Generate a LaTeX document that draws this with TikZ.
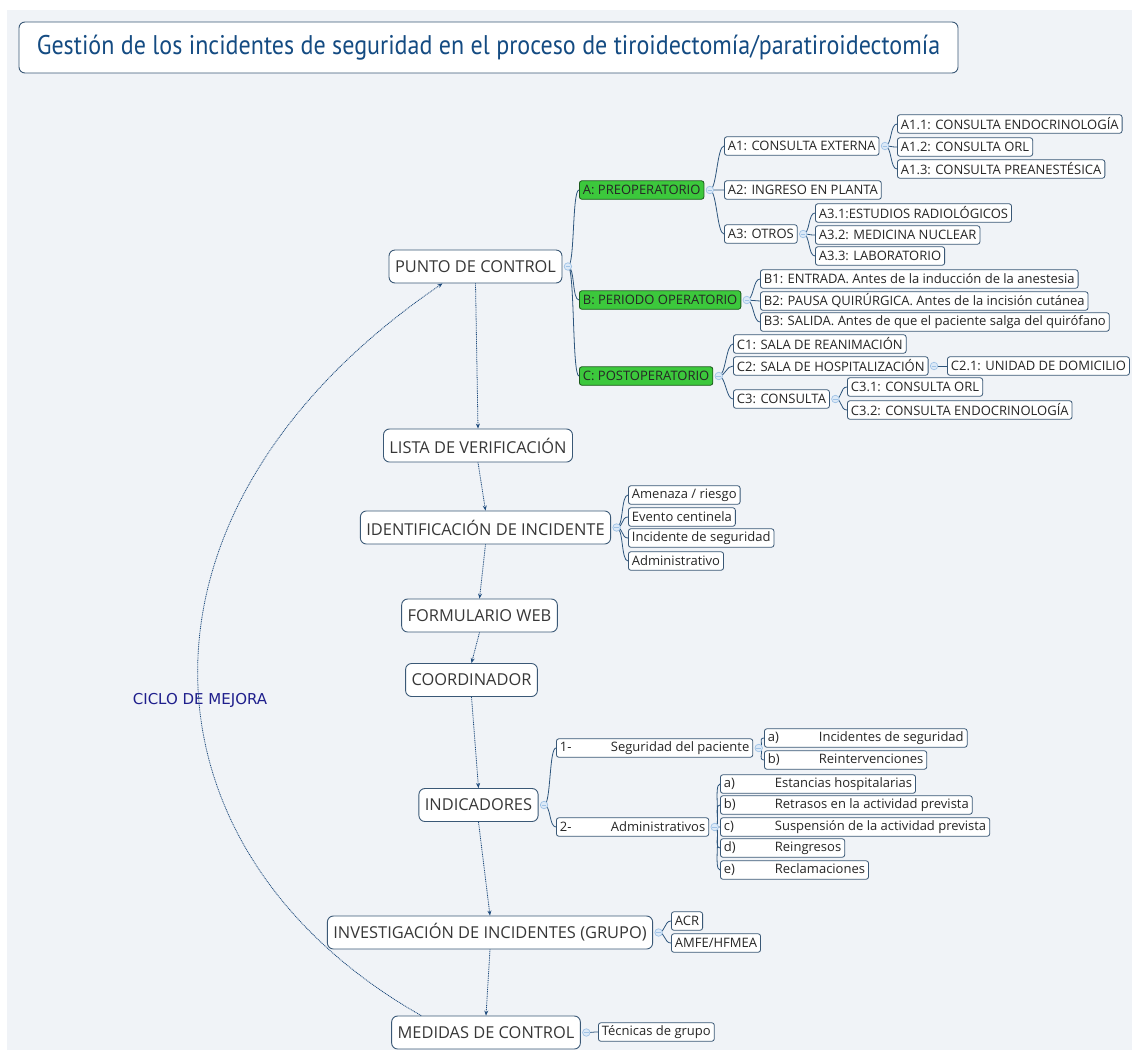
\documentclass[tikz,border=0pt]{standalone}
\usepackage{fontspec}
\setmainfont{Open Sans}
\newfontfamily\titlefont{PT Sans}[FakeStretch=0.89]
\newfontfamily\cyclefont{DejaVu Sans}
\usetikzlibrary{arrows.meta,calc}

\definecolor{paper}{RGB}{240,243,247}
\definecolor{frame}{RGB}{58,88,118}
\definecolor{branchline}{RGB}{45,85,125}
\definecolor{flowline}{RGB}{30,75,125}
\definecolor{knobline}{RGB}{160,195,230}
\definecolor{knobfill}{RGB}{220,233,247}
\definecolor{phase}{RGB}{60,200,60}
\definecolor{titleblue}{RGB}{20,75,130}
\definecolor{cyclenavy}{RGB}{30,30,140}
\definecolor{boxtext}{RGB}{55,55,55}

\newcommand{\tabbed}[2]{\makebox[51pt][l]{#1}#2}

\tikzset{
  stagebox/.style={draw=frame, line width=0.9pt, fill=white, rounded corners=6pt,
    minimum height=33pt, inner xsep=6pt, inner ysep=0pt, text=boxtext,
    font=\fontsize{16.4}{18}\selectfont},
  leaf/.style={draw=frame, line width=0.8pt, fill=white, rounded corners=2.5pt,
    minimum height=18.5pt, inner xsep=3.5pt, inner ysep=0pt, anchor=west,
    text=black!85, font=\fontsize{13}{15}\selectfont},
  phasebox/.style={leaf, fill=phase, draw=black!55!phase},
  knob/.style={circle, draw=knobline, fill=knobfill, line width=0.7pt,
    minimum size=7.5pt, inner sep=0pt,
    path picture={\draw[knobline, line width=0.7pt]
      ([xshift=1.5pt]path picture bounding box.west) -- ([xshift=-1.5pt]path picture bounding box.east);}},
  branch/.style={draw=branchline, line width=0.8pt},
  brace/.style={to path={.. controls +(7,0) and +(-7,0) .. (\tikztotarget)}},
  flow/.style={draw=flowline, line width=0.8pt, dash pattern=on 1pt off 0.8pt,
    -{Stealth[length=5pt,width=4pt]}},
}

\begin{document}
\begin{tikzpicture}[x=1pt, y=-1pt]
    \useasboundingbox (0,0) rectangle (1132,1050);
    \fill[white] (0,0) rectangle (1132,1050);
    \fill[paper] (7,10) rectangle (1132,1050);

    \node[draw=frame, line width=0.9pt, fill=white, rounded corners=6pt, minimum width=939pt,
      minimum height=51pt, text=titleblue, font=\titlefont\fontsize{27}{30}\selectfont]
      (title) at (488.5,47.5) {Gestión de los incidentes de seguridad en el proceso de tiroidectomía/paratiroidectomía};

    \node[stagebox] (pc) at (475.5,266.5) {PUNTO DE CONTROL};
    \node[stagebox] (lv) at (478,445.5) {LISTA DE VERIFICACIÓN};
    \node[stagebox] (id) at (485.5,527.5) {IDENTIFICACIÓN DE INCIDENTE};
    \node[stagebox] (fw) at (479.5,615.5) {FORMULARIO WEB};
    \node[stagebox] (co) at (471.5,680) {COORDINADOR};
    \node[stagebox] (ind) at (478.5,805) {INDICADORES};
    \node[stagebox] (iv) at (490,932.5) {INVESTIGACIÓN DE INCIDENTES (GRUPO)};
    \node[stagebox] (mc) at (486,1032.5) {MEDIDAS DE CONTROL};

    \node[text=cyclenavy, font=\cyclefont\fontsize{15}{18}\selectfont] (cycle) at (200,700) {CICLO DE MEJORA};

    \node[phasebox] (pre) at (579,190) {A: PREOPERATORIO};
    \node[phasebox] (ope) at (579,300) {B: PERIODO OPERATORIO};
    \node[phasebox] (post) at (579,376) {C: POSTOPERATORIO};

    \node[leaf] (a1) at (724,146) {A1: CONSULTA EXTERNA};
    \node[leaf] (a2) at (724,190) {A2: INGRESO EN PLANTA};
    \node[leaf] (a3) at (724,234) {A3: OTROS};
    \node[leaf] (a11) at (897,124) {A1.1: CONSULTA ENDOCRINOLOGÍA};
    \node[leaf] (a12) at (897,147) {A1.2: CONSULTA ORL};
    \node[leaf] (a13) at (897,169) {A1.3: CONSULTA PREANESTÉSICA};
    \node[leaf] (a31) at (815,213) {A3.1:ESTUDIOS RADIOLÓGICOS};
    \node[leaf] (a32) at (815,235) {A3.2: MEDICINA NUCLEAR};
    \node[leaf] (a33) at (815,256) {A3.3: LABORATORIO};

    \node[leaf] (b1) at (760,279) {B1: ENTRADA. Antes de la inducción de la anestesia};
    \node[leaf] (b2) at (760,301) {B2: PAUSA QUIRÚRGICA. Antes de la incisión cutánea};
    \node[leaf] (b3) at (760,322) {B3: SALIDA. Antes de que el paciente salga del quirófano};

    \node[leaf] (c1) at (733,344) {C1: SALA DE REANIMACIÓN};
    \node[leaf] (c2) at (733,366) {C2: SALA DE HOSPITALIZACIÓN};
    \node[leaf] (c3) at (733,399) {C3: CONSULTA};
    \node[leaf] (c21) at (947,366) {C2.1: UNIDAD DE DOMICILIO};
    \node[leaf] (c31) at (847,387) {C3.1: CONSULTA ORL};
    \node[leaf] (c32) at (847,410) {C3.2: CONSULTA ENDOCRINOLOGÍA};

    \node[leaf] (amenaza) at (628,495) {Amenaza / riesgo};
    \node[leaf] (evento) at (628,517) {Evento centinela};
    \node[leaf] (incid) at (628,538) {Incidente de seguridad};
    \node[leaf] (admin) at (628,561) {Administrativo};

    \node[leaf] (ind1) at (556,748) {\tabbed{1-}{Seguridad del paciente}};
    \node[leaf] (ind2) at (556,827) {\tabbed{2-}{Administrativos}};
    \node[leaf] (ind1a) at (764,738) {\tabbed{a)}{Incidentes de seguridad}};
    \node[leaf] (ind1b) at (764,760) {\tabbed{b)}{Reintervenciones}};
    \node[leaf] (ind2a) at (720,784) {\tabbed{a)}{Estancias hospitalarias}};
    \node[leaf] (ind2b) at (720,805) {\tabbed{b)}{Retrasos en la actividad prevista}};
    \node[leaf] (ind2c) at (720,827) {\tabbed{c)}{Suspensión de la actividad prevista}};
    \node[leaf] (ind2d) at (720,848) {\tabbed{d)}{Reingresos}};
    \node[leaf] (ind2e) at (720,870) {\tabbed{e)}{Reclamaciones}};

    \node[leaf] (acr) at (671,921) {ACR};
    \node[leaf] (amfe) at (671,943) {AMFE/HFMEA};
    \node[leaf] (tec) at (598,1032) {Técnicas de grupo};

    \draw[flow] (pc.south) -- (lv.north);
    \draw[flow] (lv.south) -- (id.north);
    \draw[flow] (id.south) -- (fw.north);
    \draw[flow] (fw.south) -- (co.north);
    \draw[flow] (co.south) -- (ind.north);
    \draw[flow] (ind.south) -- (iv.north);
    \draw[flow] (iv.south) -- (mc.north);
    \draw[flow] ([xshift=30pt]mc.north west) .. controls (130,850) and (110,510) .. ([xshift=-33pt]pc.south);

    \coordinate (pc-k) at ([xshift=5.5pt]pc.east);
    \coordinate (pre-k) at ([xshift=5.5pt]pre.east);
    \coordinate (a1-k) at ([xshift=5.5pt]a1.east);
    \coordinate (a3-k) at ([xshift=5.5pt]a3.east);
    \coordinate (ope-k) at ([xshift=5.5pt]ope.east);
    \coordinate (post-k) at ([xshift=5.5pt]post.east);
    \coordinate (c2-k) at ([xshift=5.5pt]c2.east);
    \coordinate (c3-k) at ([xshift=5.5pt]c3.east);
    \coordinate (id-k) at ([xshift=5.5pt]id.east);
    \coordinate (ind-k) at ([xshift=5.5pt]ind.east);
    \coordinate (ind1-k) at ([xshift=5.5pt]ind1.east);
    \coordinate (ind2-k) at ([xshift=5.5pt]ind2.east);
    \coordinate (iv-k) at ([xshift=5.5pt]iv.east);
    \coordinate (mc-k) at ([xshift=5.5pt]mc.east);

    \draw[branch] (pc-k) to[brace] (pre.west) (pc-k) to[brace] (ope.west) (pc-k) to[brace] (post.west);
    \draw[branch] (pre-k) to[brace] (a1.west) (pre-k) to[brace] (a2.west) (pre-k) to[brace] (a3.west);
    \draw[branch] (a1-k) to[brace] (a11.west) (a1-k) to[brace] (a12.west) (a1-k) to[brace] (a13.west);
    \draw[branch] (a3-k) to[brace] (a31.west) (a3-k) to[brace] (a32.west) (a3-k) to[brace] (a33.west);
    \draw[branch] (ope-k) to[brace] (b1.west) (ope-k) to[brace] (b2.west) (ope-k) to[brace] (b3.west);
    \draw[branch] (post-k) to[brace] (c1.west) (post-k) to[brace] (c2.west) (post-k) to[brace] (c3.west);
    \draw[branch] (c2-k) to[brace] (c21.west);
    \draw[branch] (c3-k) to[brace] (c31.west) (c3-k) to[brace] (c32.west);
    \draw[branch] (id-k) to[brace] (amenaza.west) (id-k) to[brace] (evento.west)
      (id-k) to[brace] (incid.west) (id-k) to[brace] (admin.west);
    \draw[branch] (ind-k) to[brace] (ind1.west) (ind-k) to[brace] (ind2.west);
    \draw[branch] (ind1-k) to[brace] (ind1a.west) (ind1-k) to[brace] (ind1b.west);
    \draw[branch] (ind2-k) to[brace] (ind2a.west) (ind2-k) to[brace] (ind2b.west) (ind2-k) to[brace] (ind2c.west)
      (ind2-k) to[brace] (ind2d.west) (ind2-k) to[brace] (ind2e.west);
    \draw[branch] (iv-k) to[brace] (acr.west) (iv-k) to[brace] (amfe.west);
    \draw[branch] (mc-k) to[brace] (tec.west);

    \node[knob] (pc-knob) at (pc-k) {};
    \node[knob] (pre-knob) at (pre-k) {};
    \node[knob] (a1-knob) at (a1-k) {};
    \node[knob] (a3-knob) at (a3-k) {};
    \node[knob] (ope-knob) at (ope-k) {};
    \node[knob] (post-knob) at (post-k) {};
    \node[knob] (c2-knob) at (c2-k) {};
    \node[knob] (c3-knob) at (c3-k) {};
    \node[knob] (id-knob) at (id-k) {};
    \node[knob] (ind-knob) at (ind-k) {};
    \node[knob] (ind1-knob) at (ind1-k) {};
    \node[knob] (ind2-knob) at (ind2-k) {};
    \node[knob] (iv-knob) at (iv-k) {};
    \node[knob] (mc-knob) at (mc-k) {};

  \end{tikzpicture}
\end{document}
